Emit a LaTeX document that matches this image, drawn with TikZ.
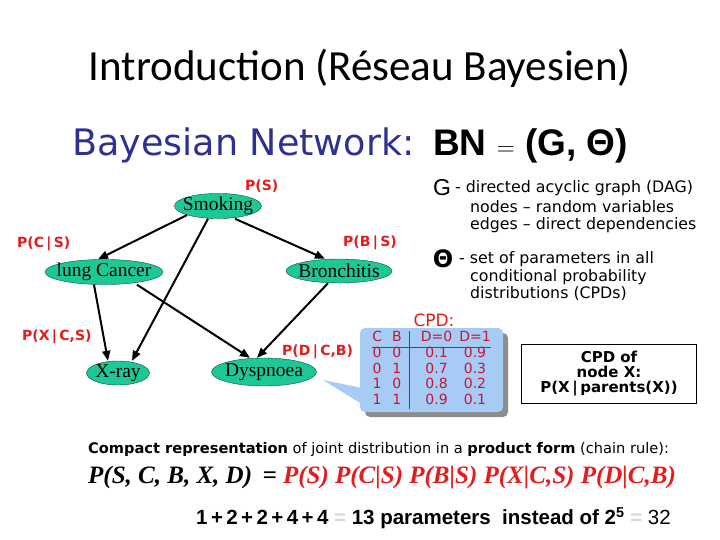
\documentclass[tikz,border=0pt]{standalone}
\usepackage{fontspec}
\setmainfont{Liberation Serif}
\newfontfamily\calfont{Carlito}
\newfontfamily\verfont{DejaVu Sans}
\newfontfamily\arfont{Liberation Sans}
\usetikzlibrary{shapes.geometric,arrows.meta,shadows}
\definecolor{netblue}{RGB}{46,49,146}
\definecolor{probred}{RGB}{228,28,28}
\definecolor{cpdred}{RGB}{200,20,50}
\definecolor{nodegreen}{RGB}{28,200,150}
\definecolor{cpdblue}{RGB}{166,204,245}
\newcommand{\fsz}[1]{\fontsize{#1}{#1}\selectfont}
\newcommand{\vname}[1]{\makebox[0pt]{#1}}
\tikzset{
  var/.style={ellipse, draw=black!60!nodegreen, fill=nodegreen, inner sep=0pt, font=\fsz{19.5}},
  prob/.style={anchor=west, text=probred, font=\verfont\bfseries\fsz{14}, inner sep=0pt},
  dep/.style={-{Triangle[length=10pt,width=8pt]}, line width=2pt},
  txt/.style={anchor=west, inner sep=0pt, font=\verfont\fsz{15.8}}
}

\begin{document}
\begin{tikzpicture}[x=1pt,y=-1pt]
  \useasboundingbox (0,0) rectangle (720,540);
  \fill[white] (0,0) rectangle (720,540);

  % titles
  \node[font=\calfont\fsz{43}] (title) at (360,68) {Introduction (Réseau Bayesien)};
  \node[anchor=base west, inner sep=0pt, text=netblue, font=\verfont\fsz{36.5}] (bnlbl) at (72,156) {Bayesian Network:};
  \node[anchor=base west, inner sep=0pt, font=\arfont\bfseries\fsz{37}] (bndef) at (433,156) {BN $=$ (G, Θ)};

  % the network
  \node[var, minimum width=87pt, minimum height=24pt] (smk) at (218,206) {\vname{Smoking}};
  \node[var, minimum width=118pt, minimum height=25pt] (lc) at (104,272) {\vname{lung Cancer}};
  \node[var, minimum width=106pt, minimum height=24pt] (br) at (339,271) {\vname{Bronchitis}};
  \node[var, minimum width=63pt, minimum height=23pt] (xr) at (118,373) {\vname{X-ray}};
  \node[var, minimum width=105pt, minimum height=28pt] (dy) at (264,372) {\vname{Dyspnoea}};

  \node[prob] (ps) at (245,186) {P(S)};
  \node[prob] (pcs) at (17,244) {P(C\,|\,S)};
  \node[prob] (pbs) at (343,243) {P(B\,|\,S)};
  \node[prob] (pxcs) at (22,337) {P(X\,|\,C,S)};
  \node[prob] (pdcb) at (282,352) {P(D\,|\,C,B)};

  \draw[dep] (smk.south west) -- ([xshift=-6pt]lc.north);
  \draw[dep] ([xshift=17pt]smk.south) -- ([xshift=-14pt]br.north);
  \draw[dep] ([xshift=-10pt]smk.south) -- ([xshift=14pt]xr.north);
  \draw[dep] ([xshift=-10pt]lc.south) -- ([xshift=-10pt]xr.north);
  \draw[dep] ([xshift=33pt]lc.south) -- ([xshift=-14pt]dy.north);
  \draw[dep] ([xshift=-11pt]br.south) -- ([xshift=-7pt]dy.north);

  % G and Theta
  \node[anchor=west, inner sep=0pt, font=\arfont\fsz{23}] (g) at (433,188) {G};
  \node[txt] (gdef) at (455,188) {- directed acyclic graph (DAG)};
  \node[txt] (gnodes) at (470,207) {nodes – random variables};
  \node[txt] (gedges) at (470,225) {edges – direct dependencies};
  \node[inner sep=0pt, font=\verfont\bfseries\fsz{24}] (theta) at (443,259) {Θ};
  \node[txt] (tdef) at (459,259) {- set of parameters in all};
  \node[txt] (tcond) at (470,277) {conditional probability};
  \node[txt] (tdist) at (470,294) {distributions (CPDs)};

  % CPD table
  \node[text=probred, font=\verfont\fsz{17}] (cpdlbl) at (434,320) {CPD:};
  \node[fill=cpdblue, rounded corners=5pt, minimum width=143pt, minimum height=84pt, inner sep=0pt,
        drop shadow={shadow xshift=5pt, shadow yshift=-5pt, fill=black!45, opacity=1},
        text=cpdred, font=\verfont\fsz{14}] (cpd) at (431.5,370)
    {\fontsize{14}{15.5}\selectfont%
     \begin{tabular}{@{}c@{\hspace{10pt}}c@{\hspace{8pt}}|@{\hspace{11pt}}c@{\hspace{7pt}}c@{}}
       C & B & D=0 & D=1\\ \hline
       0 & 0 & 0.1 & 0.9\\
       0 & 1 & 0.7 & 0.3\\
       1 & 0 & 0.8 & 0.2\\
       1 & 1 & 0.9 & 0.1
     \end{tabular}};
  \coordinate (tip) at (323,380);
  \fill[cpdblue] (tip) -- ([xshift=2pt,yshift=-18pt]cpd.west) -- ([xshift=2pt,yshift=-34pt]cpd.west) -- cycle;

  \node[draw, line width=1.2pt, minimum width=175pt, minimum height=59pt, align=center,
        font=\verfont\bfseries\fsz{15}] (cpdx) at (609,374)
    {\fontsize{15}{17.5}\selectfont CPD of\\node X:\\P(X\,|\,parents(X))};

  % chain rule
  \node[anchor=west, inner sep=0pt, font=\verfont\fsz{14.6}] (compact) at (88,449)
    {\textbf{Compact representation} of joint distribution in a \textbf{product form} (chain rule):};
  \node[anchor=west, inner sep=0pt, font=\bfseries\itshape\fsz{25}] (joint) at (88,478)
    {P(S, C, B, X, D) \,= \textcolor{probred}{P(S) P(C|S) P(B|S) P(X|C,S) P(D|C,B)}};
  \node[anchor=west, inner sep=0pt, font=\arfont\bfseries\fsz{20.5}] (count) at (196,518)
    {1\,+\,2\,+\,2\,+\,4\,+\,4 \textcolor{black!15}{=} 13 parameters\ \ instead of 2\textsuperscript{5} \textcolor{black!15}{=} \mdseries 32};
\end{tikzpicture}
\end{document}
